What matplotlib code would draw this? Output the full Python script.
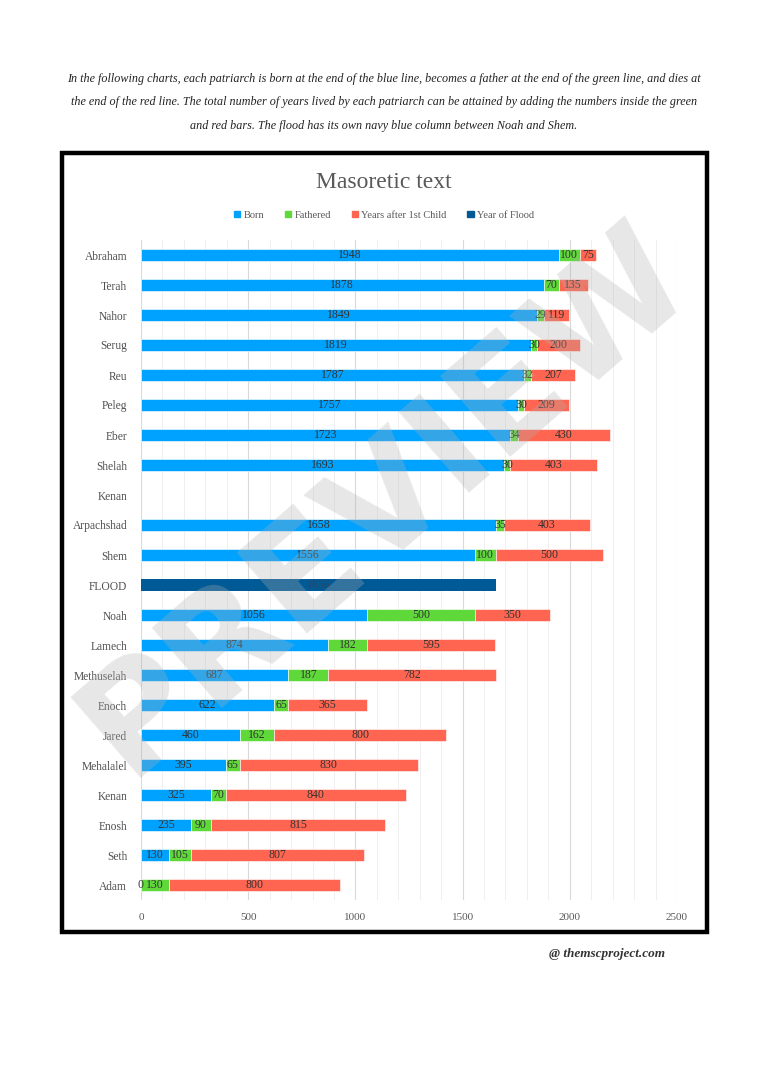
import matplotlib
matplotlib.use("Agg")
import matplotlib.pyplot as plt
from matplotlib.patches import Rectangle
from matplotlib.ticker import MultipleLocator
import numpy as np

# Data (top to bottom as shown)
names = ["Abraham", "Terah", "Nahor", "Serug", "Reu", "Peleg", "Eber", "Shelah",
         "Kenan", "Arpachshad", "Shem", "FLOOD", "Noah", "Lamech", "Methuselah",
         "Enoch", "Jared", "Mehalalel", "Kenan", "Enosh", "Seth", "Adam"]
born = [1948, 1878, 1849, 1819, 1787, 1757, 1723, 1693,
        None, 1658, 1556, None, 1056, 874, 687,
        622, 460, 395, 325, 235, 130, 0]
fathered = [100, 70, 29, 30, 32, 30, 34, 30,
            None, 35, 100, None, 500, 182, 187,
            65, 162, 65, 70, 90, 105, 130]
after = [75, 135, 119, 200, 207, 209, 430, 403,
         None, 403, 500, None, 350, 595, 782,
         365, 800, 830, 840, 815, 807, 800]
flood = [None] * 11 + [1656] + [None] * 10

c_born = "#00A2FF"
c_fath = "#5FD93A"
c_after = "#FF6550"
c_flood = "#005A96"

serif = ["Liberation Serif", "DejaVu Serif"]
plt.rcParams["font.family"] = serif

fig = plt.figure(figsize=(7.68, 10.86), dpi=100)

# intro text
intro = ["In the following charts, each patriarch is born at the end of the blue line, becomes a father at the end of the green line, and dies at",
         "the end of the red line. The total number of years lived by each patriarch can be attained by adding the numbers inside the green",
         "and red bars. The flood has its own navy blue column between Noah and Shem."]
for i, line in enumerate(intro):
    fig.text(0.5, 1 - (79 + i * 23.5) / 1086, line, ha="center", va="center",
             fontsize=8.7, style="italic", color="#222222")

# frame
fig.patches.append(Rectangle((62 / 768, 1 - 932 / 1086), (707 - 62) / 768, (932 - 153) / 1086,
                             transform=fig.transFigure, fill=False, lw=3.2,
                             edgecolor="black", zorder=0))

ax = fig.add_axes([141 / 768, 1 - 900 / 1086, 536 / 768, 660 / 1086])
n = len(names)
y = np.arange(n)[::-1]
h = 0.42
lab_kw = dict(ha="center", va="center", fontsize=8.5, color="#333333", zorder=4)
for yi, b, f, a, fl in zip(y, born, fathered, after, flood):
    if b is not None:
        ax.barh(yi, b, height=h, color=c_born, edgecolor="white", linewidth=0.4, zorder=3)
        ax.barh(yi, f, left=b, height=h, color=c_fath, edgecolor="white", linewidth=0.4, zorder=3)
        ax.barh(yi, a, left=b + f, height=h, color=c_after, edgecolor="white", linewidth=0.4, zorder=3)
        ax.text(b / 2, yi, str(b), **lab_kw)
        ax.text(b + f / 2, yi, str(f), **lab_kw)
        ax.text(b + f + a / 2, yi, str(a), **lab_kw)
    if fl is not None:
        ax.barh(yi, fl, height=h, color=c_flood, zorder=3)
        ax.text(fl / 2, yi, str(fl), ha="center", va="center", fontsize=8.5, color="#2a4a6a", zorder=4)

ax.set_xlim(0, 2500)
ax.set_ylim(-0.5, n - 0.5)
ax.set_yticks(y)
ax.set_yticklabels(names, fontsize=8.3, color="#505050")
ax.xaxis.set_major_locator(MultipleLocator(500))
ax.xaxis.set_minor_locator(MultipleLocator(100))
ax.grid(axis="x", which="major", color="#d9d9d9", lw=0.8, zorder=0)
ax.grid(axis="x", which="minor", color="#ececec", lw=0.6, zorder=0)
ax.tick_params(axis="both", which="both", length=0)
ax.tick_params(axis="x", labelsize=8, labelcolor="#595959", pad=9)
ax.tick_params(axis="y", pad=10)
for s in ax.spines.values():
    s.set_visible(False)
ax.set_axisbelow(True)

# title and legend
fig.text(0.5, 1 - 183 / 1086, "Masoretic text", ha="center", va="center",
         fontsize=17, color="#595959")
handles = [Rectangle((0, 0), 1, 1, color=c) for c in (c_born, c_fath, c_after, c_flood)]
fig.legend(handles, ["Born", "Fathered", "Years after 1st Child", "Year of Flood"],
           loc="center", bbox_to_anchor=(0.5, 1 - 215 / 1086), ncol=4, frameon=False,
           fontsize=7.5, handlelength=0.6, handleheight=0.6, handletextpad=0.3,
           columnspacing=2.0, labelcolor="#595959")

# watermark
fig.text(385 / 768, 1 - 500 / 1086, "PREVIEW", ha="center", va="center", rotation=41,
         fontsize=106, fontweight="bold", family="DejaVu Sans", color="#b0b0b0", alpha=0.3,
         zorder=10)

# footer
fig.text(607 / 768, 1 - 954 / 1086, "@ themscproject.com", ha="center", va="center",
         fontsize=9.5, style="italic", fontweight="bold", color="#333333")

fig.savefig("out.png", dpi=100)
